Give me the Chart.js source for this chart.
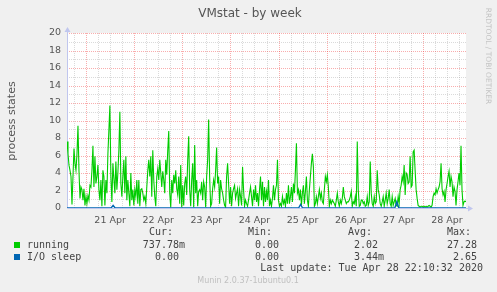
<!DOCTYPE html>
<html>
<head>
<meta charset="utf-8">
<title>VMstat - by week</title>
<script src="https://cdn.jsdelivr.net/npm/chart.js@4.4.1/dist/chart.umd.min.js"></script>
<style>
  body { margin: 0; background: #f0f0f0; }
  #wrap { position: relative; width: 497px; height: 292px; overflow: hidden; font-family: "DejaVu Sans", sans-serif; color: #555; }
  #chart { position: absolute; left: 0; top: 0; }
  .t { position: absolute; white-space: pre; line-height: 1; }
  .mono { font-family: "DejaVu Sans Mono", monospace; font-size: 10px; color: #444; }
  .sq { position: absolute; width: 6px; height: 6px; }
</style>
</head>
<body>
<div id="wrap">
  <canvas id="chart" width="497" height="292"></canvas>
  <div class="t" style="left:150px; top:7px; width:200px; text-align:center; font-size:12px; color:#555;">VMstat - by week</div>
  <div class="t" style="left:-48px; top:115px; width:120px; height:12px; line-height:12px; text-align:center; transform:rotate(-90deg); font-size:11px; color:#555;">process states</div>
  <div class="t" style="left:433px; top:52px; width:110px; height:8px; line-height:8px; text-align:center; transform:rotate(90deg); font-size:7.5px; color:#c4c4c4;">RRDTOOL / TOBI OETIKER</div>

  <div class="t mono" style="left:149px; top:227px;">Cur:</div>
  <div class="t mono" style="left:248px; top:227px;">Min:</div>
  <div class="t mono" style="left:348px; top:227px;">Avg:</div>
  <div class="t mono" style="left:447px; top:227px;">Max:</div>

  <div class="sq" style="left:14px; top:242px; background:#00cc00;"></div>
  <div class="t mono" style="left:27px; top:240px;">running</div>
  <div class="t mono" style="right:312px; top:240px;">737.78m</div>
  <div class="t mono" style="right:212px; top:240px;">0.00 </div>
  <div class="t mono" style="right:113px; top:240px;">2.02 </div>
  <div class="t mono" style="right:14px; top:240px;">27.28 </div>

  <div class="sq" style="left:14px; top:254px; background:#0066b3;"></div>
  <div class="t mono" style="left:27px; top:252px;">I/O sleep</div>
  <div class="t mono" style="right:312px; top:252px;">0.00 </div>
  <div class="t mono" style="right:212px; top:252px;">0.00 </div>
  <div class="t mono" style="right:113px; top:252px;">3.44m</div>
  <div class="t mono" style="right:14px; top:252px;">2.65 </div>

  <div class="t mono" style="right:14px; top:263px;">Last update: Tue Apr 28 22:10:32 2020</div>
  <div class="t" style="left:148px; top:277px; width:200px; text-align:center; font-size:8px; color:#c0c0c0;">Munin 2.0.37-1ubuntu0.1</div>
</div>
<script>
// hours relative to 21 Apr 00:00
var startHour = -9.5;
var endHour = 189.5;
var dayLabels = ['21 Apr', '22 Apr', '23 Apr', '24 Apr', '25 Apr', '26 Apr', '27 Apr', '28 Apr'];

// running processes, one sample per ~30 min
var running = [
  7.6, 6.2, 4.9, 4.3, 3.6, 0.4, 3.6, 6.8, 5.1, 4.3,
  6.2, 9.4, 4.3, 1.1, 2.4, 2.1, 0.9, 2.2, 0.3, 1.3,
  0.5, 1.4, 0.9, 2.6, 2.4, 4.3, 7.1, 2.4, 5.9, 2.8,
  3.6, 4.9, 2.1, 0.9, 3.2, 0.2, 4.3, 3.6, 0.3, 3.2,
  1.7, 6.2, 8.9, 11.7, 3.6, 0.7, 5.1, 3.4, 1.7, 5.3,
  2.1, 4.0, 6.6, 11.0, 2.8, 1.3, 3.6, 5.5, 1.7, 5.9,
  0.9, 3.2, 1.7, 0.2, 4.0, 0.9, 2.1, 0.3, 2.1, 1.3,
  3.2, 0.5, 3.2, 0.2, 2.1, 2.2, 1.7, 0.9, 1.3, 0.5,
  2.4, 4.3, 5.5, 3.6, 5.9, 1.3, 6.6, 3.2, 1.3, 0.2,
  3.6, 4.5, 3.2, 5.5, 4.0, 2.4, 4.2, 3.2, 1.7, 5.5,
  3.8, 6.6, 8.8, 1.7, 0.1, 3.2, 1.7, 3.8, 2.8, 4.3,
  2.2, 1.5, 3.6, 0.5, 4.9, 0.1, 2.6, 0.3, 2.8, 3.6,
  1.5, 5.5, 8.2, 2.1, 0.2, 3.2, 5.1, 0.1, 7.2, 1.7,
  3.2, 0.2, 1.9, 2.1, 1.7, 3.0, 0.9, 3.0, 2.4, 0.1,
  3.6, 5.5, 10.1, 3.6, 0.2, 0.5, 2.2, 3.2, 2.4, 4.3,
  6.9, 2.8, 3.6, 0.5, 3.2, 2.2, 1.7, 0.9, 0.3, 0.1,
  3.6, 5.1, 2.8, 0.5, 2.4, 0.2, 1.7, 2.2, 2.6, 1.1,
  1.7, 2.2, 0.2, 2.1, 1.3, 0.3, 4.7, 2.1, 0.2, 0.9,
  0.5, 0.2, 0.9, 1.7,
  2.4, 1.3, 0.2, 2.1, 0.9, 2.6, 0.7, 1.7, 0.2, 2.1,
  3.6, 0.9, 3.0, 0.2, 2.4, 0.7, 1.9, 0.9, 3.2, 0.2,
  0.9, 0.2, 1.1, 2.6, 0.9, 2.1, 2.6, 5.5, 0.9, 0.2,
  0.5, 0.2, 1.3, 0.5, 0.9, 0.2, 1.7, 0.5, 2.6, 0.5,
  1.3, 2.4, 0.7, 2.8, 1.7, 4.3, 7.4, 1.7, 2.1, 0.9,
  2.1, 0.3, 1.7, 2.6, 0.5, 1.9, 3.6, 0.9, 0.2, 2.1,
  3.6, 5.1, 6.2, 4.7, 0.2, 0.5, 1.3, 0.5, 1.3, 2.1,
  1.1, 1.7, 0.7, 0.5, 2.1, 3.6, 3.0, 3.8, 2.4, 0.2,
  0.9, 0.5, 0.9, 0.7, 0.5, 0.2, 0.9, 1.7, 0.7, 0.2,
  0.9, 0.5, 1.1, 2.4, 1.3, 0.9, 0.5, 0.7, 0.7, 0.9,
  1.3, 1.9, 0.2, 0.7, 0.5, 1.3, 0.2, 7.6, 2.1, 0.2,
  0.3, 0.9, 0.9, 0.5, 0.7, 0.2, 0.3, 1.3, 0.3, 0.7,
  5.3, 1.7, 0.5, 0.2, 1.3, 0.5, 0.7, 4.3, 2.1, 1.5,
  0.5, 0.2, 0.7, 1.3, 0.2, 0.9, 1.7, 0.5, 1.1, 2.1,
  0.5, 0.2, 1.3, 0.3, 0.7, 1.1, 0.3, 0.2, 1.3, 0.5,
  2.1, 2.6, 3.6, 3.0, 4.9, 1.5, 4.0, 3.8, 2.8, 3.0,
  5.9, 2.4, 2.6, 6.4, 6.6, 4.3, 2.1, 1.1, 0.3, 0.2,
  0.1, 0.2, 0.2, 0.1, 0.2, 0.1, 0.2, 0.1, 0.2, 0.3,
  0.2, 0.1, 0.3, 1.3, 1.7, 1.5, 2.2, 1.7, 2.1, 2.4,
  3.0, 5.1, 2.2, 1.5, 1.9, 0.7, 2.1, 2.8, 3.6, 4.2,
  2.4, 3.6, 3.0, 1.3, 2.4, 1.9, 0.3, 2.1, 3.0, 4.0,
  2.6, 7.1, 2.1, 0.3, 0.7, 0.8, 0.7
];

// I/O sleep is flat at zero apart from a few blips
var ioHours = [-9.5, 12.5, 13.5, 14.5, 106, 107, 108, 154, 155, 156, 189.5];
var ioSleep = [0, 0, 0.3, 0, 0, 0.4, 0, 0, 0.7, 0, 0];

var yTicks = [];
for (var v = 0; v <= 20; v++) yTicks.push(v);
var xTicks = [];
for (var h = -6; h <= 186; h += 6) xTicks.push(h);

var majorGrid = 'rgba(240,40,40,0.38)';
var minorGrid = 'rgba(140,140,140,0.32)';
var axisColor = '#c0c6ee';

var step = (endHour - startHour) / (running.length - 1);
var runningPts = running.map(function(v, i) { return {x: startHour + i * step, y: v}; });
var ioPts = ioHours.map(function(h, i) { return {x: h, y: ioSleep[i]}; });

// rrdtool style dotted grid, axes with arrows
var munin = {
  id: 'munin',
  beforeDraw: function(chart) {
    var a = chart.chartArea, c = chart.ctx;
    c.save();
    c.fillStyle = '#ffffff';
    c.fillRect(a.left, a.top, a.right - a.left, a.bottom - a.top);
    c.restore();
  },
  beforeDatasetsDraw: function(chart) {
    var a = chart.chartArea, c = chart.ctx;
    var xs = chart.scales.x, ys = chart.scales.y;
    c.save();
    c.lineWidth = 1;
    c.setLineDash([1, 1]);
    xTicks.forEach(function(hh) {
      var px = Math.round(xs.getPixelForValue(hh)) + 0.5;
      c.strokeStyle = hh % 24 === 0 ? majorGrid : minorGrid;
      c.beginPath(); c.moveTo(px, a.bottom); c.lineTo(px, a.top); c.stroke();
    });
    yTicks.forEach(function(vv) {
      if (vv === 0) return;
      var py = Math.round(ys.getPixelForValue(vv)) + 0.5;
      c.strokeStyle = vv % 2 === 0 ? majorGrid : minorGrid;
      c.beginPath(); c.moveTo(a.left, py); c.lineTo(a.right, py); c.stroke();
    });
    c.setLineDash([]);
    var x0 = Math.round(a.left) + 0.5, y0 = Math.round(a.bottom) + 0.5;
    c.strokeStyle = axisColor;
    c.fillStyle = axisColor;
    c.beginPath();
    c.moveTo(x0, y0); c.lineTo(x0, a.top - 2);
    c.moveTo(x0, y0); c.lineTo(a.right + 2, y0);
    c.stroke();
    c.beginPath();
    c.moveTo(x0, a.top - 6); c.lineTo(x0 - 3, a.top - 1); c.lineTo(x0 + 3, a.top - 1);
    c.closePath(); c.fill();
    c.beginPath();
    c.moveTo(a.right + 7, y0); c.lineTo(a.right + 2, y0 - 3); c.lineTo(a.right + 2, y0 + 3);
    c.closePath(); c.fill();
    c.restore();
  }
};

var ctx = document.getElementById('chart').getContext('2d');
var myChart = new Chart(ctx, {
  type: 'line',
  data: {
    datasets: [{
      label: 'running',
      data: runningPts,
      borderColor: '#00cc00',
      borderWidth: 1.1,
      pointRadius: 0,
      tension: 0,
      order: 1
    },
    {
      label: 'I/O sleep',
      data: ioPts,
      borderColor: '#0066b3',
      borderWidth: 1.4,
      pointRadius: 0,
      tension: 0,
      order: 0
    }]
  },
  options: {
    responsive: false,
    animation: false,
    events: [],
    layout: { padding: { left: 0, top: 33, right: 31, bottom: 64 } },
    plugins: { legend: { display: false }, tooltip: { enabled: false } },
    scales: {
      x: {
        type: 'linear',
        min: startHour,
        max: endHour,
        afterBuildTicks: function(s) { s.ticks = xTicks.map(function(v) { return {value: v}; }); },
        afterFit: function(s) { s.height = 20; },
        grid: { display: false, drawTicks: false },
        border: { display: false },
        ticks: {
          autoSkip: false,
          maxRotation: 0,
          minRotation: 0,
          padding: 7,
          color: '#555',
          font: { family: 'DejaVu Sans', size: 9.5 },
          callback: function(v) {
            return (v % 24 === 12) ? dayLabels[(v - 12) / 24] : '';
          }
        }
      },
      y: {
        min: 0,
        max: 20,
        afterBuildTicks: function(s) { s.ticks = yTicks.map(function(v) { return {value: v}; }); },
        afterFit: function(s) { s.width = 67; },
        grid: { display: false, drawTicks: false },
        border: { display: false },
        ticks: {
          autoSkip: false,
          padding: 6,
          color: '#555',
          font: { family: 'DejaVu Sans', size: 9.5 },
          callback: function(v) { return v % 2 === 0 ? String(v) : ''; }
        }
      }
    }
  },
  plugins: [munin]
});
</script>
</body>
</html>
